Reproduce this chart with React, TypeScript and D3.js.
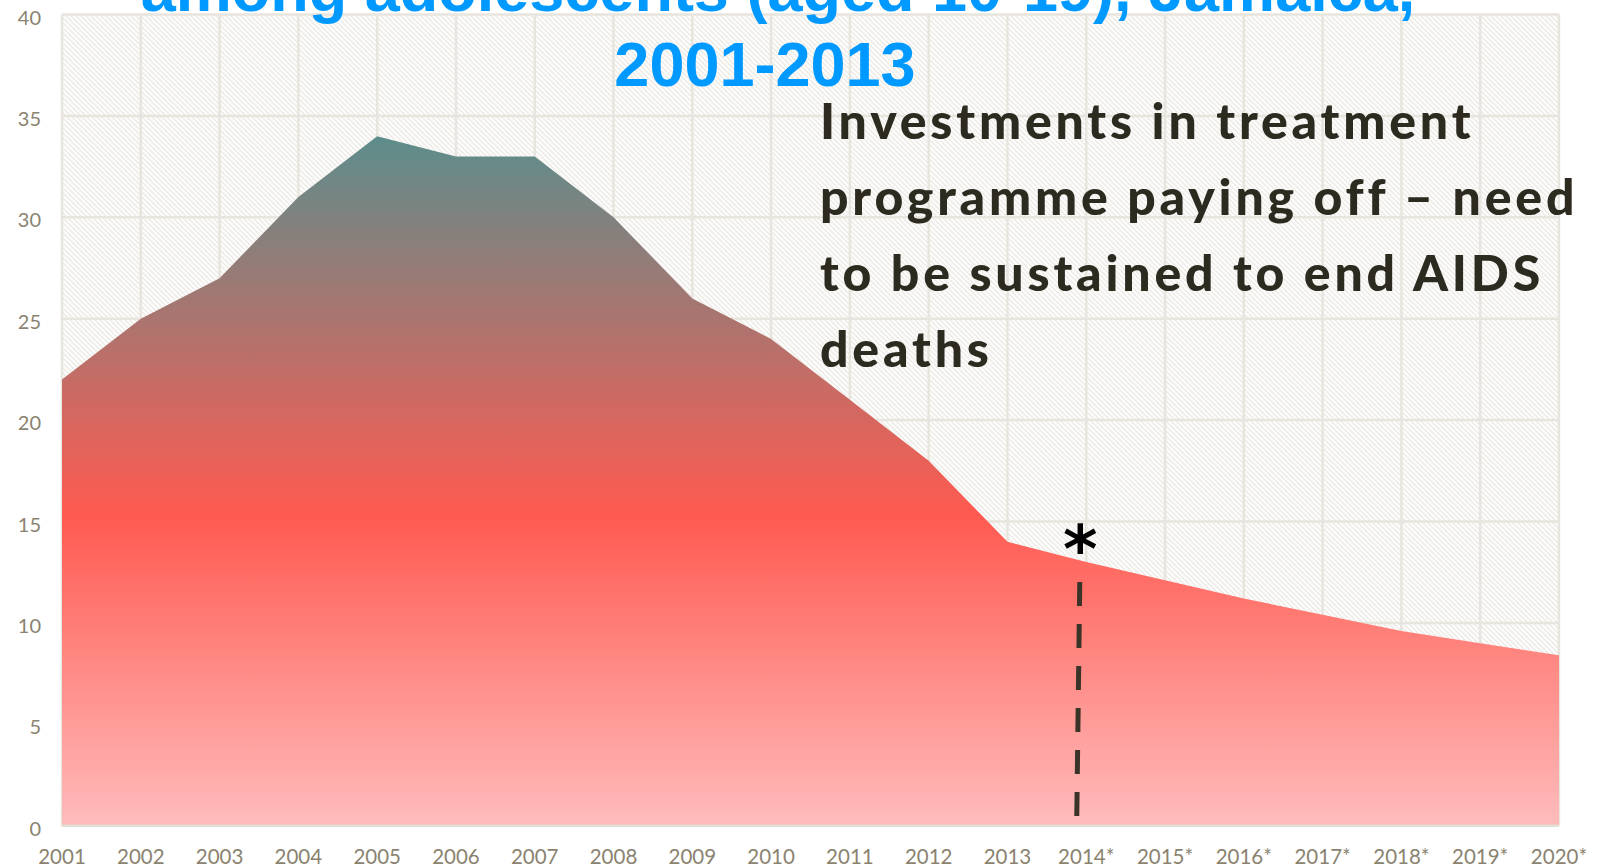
import { useEffect, useRef } from 'react';
import * as d3 from 'd3';

// years on the x axis (projections marked with *)
const years = [
  '2001', '2002', '2003', '2004', '2005', '2006', '2007', '2008', '2009', '2010',
  '2011', '2012', '2013', '2014*', '2015*', '2016*', '2017*', '2018*', '2019*', '2020*',
];

// AIDS deaths among adolescents
const deaths = [22, 25, 27, 31, 34, 33, 33, 30, 26, 24, 21, 18, 14, 13.0, 12.1, 11.2, 10.4, 9.6, 9.0, 8.4];

const yTicks = [0, 5, 10, 15, 20, 25, 30, 35, 40];

const titleLines = ['among adolescents (aged 10-19), Jamaica,', '2001-2013'];
const noteLines = [
  'Investments in treatment',
  'programme paying off \u2013 need',
  'to be sustained to end AIDS',
  'deaths',
];

export default function App() {
  const svgRef = useRef<SVGSVGElement | null>(null);

  useEffect(() => {
    if (!svgRef.current) return;
    const width = 1607;
    const height = 868;

    const svg = d3.select(svgRef.current);
    svg.selectAll('*').remove();

    const x = d3.scalePoint<string>().domain(years).range([62, 1559]);
    const y = d3.scaleLinear().domain([0, 40]).range([825.7, 14.5]);

    const left = x(years[0])!;
    const right = x(years[years.length - 1])!;

    const defs = svg.append('defs');

    // diagonal hatch behind the plot
    const pat = defs.append('pattern')
      .attr('id', 'hatch')
      .attr('patternUnits', 'userSpaceOnUse')
      .attr('width', 5)
      .attr('height', 5);
    pat.append('rect').attr('width', 5).attr('height', 5).attr('fill', '#ffffff');
    pat.append('path')
      .attr('d', 'M-1,-1 L6,6 M-1,4 L1,6 M4,-1 L6,1')
      .attr('stroke', '#efede8')
      .attr('stroke-width', 1.8);

    // area gradient: grey-teal at the peak, red in the middle, pink at the base
    const grad = defs.append('linearGradient')
      .attr('id', 'areaFill')
      .attr('gradientUnits', 'userSpaceOnUse')
      .attr('x1', 0).attr('x2', 0)
      .attr('y1', y(d3.max(deaths)!))
      .attr('y2', y(0));
    grad.append('stop').attr('offset', '0%').attr('stop-color', '#5d8d8c');
    grad.append('stop').attr('offset', '55%').attr('stop-color', '#ff5a50');
    grad.append('stop').attr('offset', '100%').attr('stop-color', '#ffbcbc');

    svg.append('rect')
      .attr('width', width).attr('height', height)
      .attr('fill', '#ffffff');

    // plot background
    svg.append('rect')
      .attr('x', left).attr('y', y(40))
      .attr('width', right - left).attr('height', y(0) - y(40))
      .attr('fill', 'url(#hatch)');

    // grid
    const grid = svg.append('g')
      .attr('stroke', '#e8e5de')
      .attr('stroke-width', 2.5);
    grid.selectAll('.hg')
      .data(yTicks)
      .enter()
      .append('line')
      .attr('x1', left).attr('x2', right)
      .attr('y1', d => y(d)).attr('y2', d => y(d));
    grid.selectAll('.vg')
      .data(years)
      .enter()
      .append('line')
      .attr('x1', d => x(d)!).attr('x2', d => x(d)!)
      .attr('y1', y(40)).attr('y2', y(0));

    // area
    const area = d3.area<number>()
      .x((_, i) => x(years[i])!)
      .y0(y(0))
      .y1(d => y(d));
    svg.append('path')
      .datum(deaths)
      .attr('d', area)
      .attr('fill', 'url(#areaFill)');

    // bottom axis line
    svg.append('line')
      .attr('x1', left).attr('x2', right)
      .attr('y1', y(0)).attr('y2', y(0))
      .attr('stroke', '#e2ded5')
      .attr('stroke-width', 2.5);

    // y labels
    svg.append('g')
      .selectAll('text')
      .data(yTicks)
      .enter()
      .append('text')
      .attr('x', 41)
      .attr('y', d => y(d) + 10)
      .attr('text-anchor', 'end')
      .attr('font-family', 'Lato, sans-serif')
      .attr('font-size', 20)
      .attr('fill', '#8a8370')
      .text(d => d);

    // x labels
    svg.append('g')
      .selectAll('text')
      .data(years)
      .enter()
      .append('text')
      .attr('x', d => x(d)!)
      .attr('y', 864)
      .attr('text-anchor', 'middle')
      .attr('font-family', 'Lato, sans-serif')
      .attr('font-size', 20.5)
      .attr('fill', '#8a8370')
      .text(d => d);

    // dashed marker where projections start
    const xm = x('2014*')! - 8;
    svg.append('line')
      .attr('x1', xm + 1.5).attr('y1', 582)
      .attr('x2', xm - 1.5).attr('y2', 818)
      .attr('stroke', '#3a3428')
      .attr('stroke-width', 5)
      .attr('stroke-dasharray', '24 18');

    svg.append('text')
      .attr('x', xm + 2)
      .attr('y', 572)
      .attr('text-anchor', 'middle')
      .attr('font-family', 'DejaVu Sans, sans-serif')
      .attr('font-weight', 'bold')
      .attr('font-size', 66)
      .attr('fill', '#000000')
      .text('*');

    // annotation
    svg.append('g')
      .selectAll('text')
      .data(noteLines)
      .enter()
      .append('text')
      .attr('x', 820)
      .attr('y', (_, i) => 139 + i * 76)
      .attr('font-family', 'Lato, sans-serif')
      .attr('font-weight', 900)
      .attr('font-size', 50)
      .attr('letter-spacing', 3.8)
      .attr('fill', '#2d2a20')
      .text(d => d);

    // title (top line is cut off by the frame)
    svg.append('g')
      .selectAll('text')
      .data(titleLines)
      .enter()
      .append('text')
      .attr('x', (_, i) => (i === 0 ? 778 : 765))
      .attr('y', (_, i) => 11 + i * 75)
      .attr('text-anchor', 'middle')
      .attr('font-family', 'Liberation Sans, Arial, sans-serif')
      .attr('font-weight', 'bold')
      .attr('font-size', 63)
      .attr('fill', '#0099ff')
      .text(d => d);
  }, []);

  return (
    <svg
      ref={svgRef}
      width={1607}
      height={868}
      style={{ position: 'absolute', left: 0, top: 0, display: 'block' }}
    />
  );
}
